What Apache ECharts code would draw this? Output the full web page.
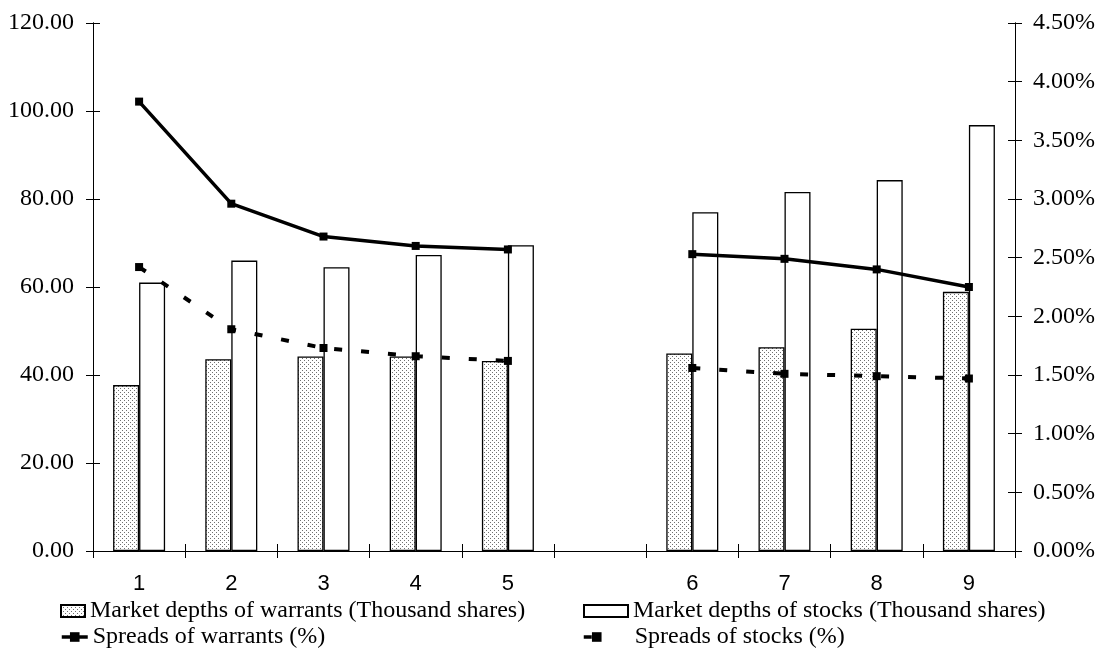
<!DOCTYPE html>
<html>
<head>
<meta charset="utf-8">
<script src="https://cdn.jsdelivr.net/npm/echarts@6/dist/echarts.min.js"></script>
<style>html,body{margin:0;padding:0;background:#fff}#c{width:1103px;height:655px}</style>
</head>
<body>
<div id="c"></div>
<script>
const categories = ['1', '2', '3', '4', '5', '', '6', '7', '8', '9'];
const warrantDepth = [37.7, 43.6, 44.2, 44.2, 43.2, null, 44.9, 46.3, 50.5, 58.9];
const stockDepth = [61.0, 66.0, 64.5, 67.3, 69.5, null, 77.0, 81.6, 84.3, 96.8];
const warrantSpread = [3.83, 2.96, 2.68, 2.60, 2.57, null, 2.53, 2.49, 2.40, 2.25];
const stockSpread = [2.42, 1.89, 1.73, 1.66, 1.62, null, 1.56, 1.51, 1.49, 1.47];
const seriesNames = ['Market depths of warrants (Thousand shares)', 'Market depths of stocks (Thousand shares)', 'Spreads of warrants (%)', 'Spreads of stocks (%)'];

// dotted fill pattern for the warrant bars
const tile = document.createElement('canvas');
tile.width = 4; tile.height = 4;
const tc = tile.getContext('2d');
tc.fillStyle = '#ffffff'; tc.fillRect(0, 0, 4, 4);
tc.fillStyle = '#707070';
tc.fillRect(0, 0, 1, 1);
tc.fillRect(2, 2, 1, 1);

const serif = 'Liberation Serif';
const GL = 93, GR = 88, GT = 23, GB = 104;
const blk = () => ({ color: '#000', width: 1 });

const chart = echarts.init(document.getElementById('c'), null, { renderer: 'canvas' });
chart.setOption({
  animation: false,
  backgroundColor: '#fff',
  grid: [
    { left: GL, right: GR, top: GT, bottom: GB, containLabel: false },
    { left: GL, right: GR, top: GT, bottom: GB, containLabel: false }
  ],
  legend: [
    { data: [{ name: seriesNames[0], icon: 'rect' }], left: 60, top: 599, padding: 0, itemWidth: 24, itemHeight: 12, textStyle: { fontFamily: serif, fontSize: 24, color: '#000' } },
    { data: [{ name: seriesNames[1], icon: 'rect' }], left: 583, top: 599, padding: 0, itemWidth: 44, itemHeight: 12, textStyle: { fontFamily: serif, fontSize: 24, color: '#000' } },
    { data: [seriesNames[2]], left: 60, top: 625, padding: 0, itemWidth: 26, itemHeight: 12, lineStyle: { width: 3.5 }, textStyle: { fontFamily: serif, fontSize: 24, color: '#000' } },
    { data: [seriesNames[3]], left: 582, top: 625, padding: 0, itemWidth: 26, itemHeight: 12, lineStyle: { width: 3.5 }, textStyle: { fontFamily: serif, fontSize: 24, color: '#000', padding: [0, 0, 0, 20] } }
  ],
  xAxis: [
    {
      gridIndex: 0, type: 'category', data: categories, position: 'bottom', boundaryGap: true,
      axisLine: { show: true, lineStyle: blk() },
      axisTick: { show: true, length: 7, lineStyle: blk() },
      axisLabel: { fontFamily: 'Liberation Sans', fontSize: 22, color: '#000', margin: 22, interval: 0 },
      splitLine: { show: false }
    },
    {
      gridIndex: 1, type: 'category', data: categories, position: 'bottom', boundaryGap: true,
      axisLine: { show: true, lineStyle: blk() },
      axisTick: { show: true, inside: true, length: 7, lineStyle: blk() },
      axisLabel: { show: false },
      splitLine: { show: false }
    }
  ],
  yAxis: [
    {
      gridIndex: 0, type: 'value', position: 'left', min: 0, max: 120, interval: 20,
      axisLine: { show: true, lineStyle: blk() },
      axisTick: { show: true, length: 7, lineStyle: blk() },
      axisLabel: { fontFamily: serif, fontSize: 24, color: '#000', margin: 19, formatter: v => v.toFixed(2) },
      splitLine: { show: false }
    },
    {
      gridIndex: 0, type: 'value', position: 'right', min: 0, max: 4.5, interval: 0.5,
      axisLine: { show: true, lineStyle: blk() },
      axisTick: { show: true, length: 7, lineStyle: blk() },
      axisLabel: { fontFamily: serif, fontSize: 24, color: '#000', margin: 18, formatter: v => v.toFixed(2) + '%' },
      splitLine: { show: false }
    },
    {
      gridIndex: 1, type: 'value', position: 'left', min: 0, max: 120, interval: 20,
      axisLine: { show: true, lineStyle: blk() },
      axisTick: { show: true, inside: true, length: 7, lineStyle: blk() },
      axisLabel: { show: false },
      splitLine: { show: false }
    },
    {
      gridIndex: 1, type: 'value', position: 'right', min: 0, max: 4.5, interval: 0.5,
      axisLine: { show: true, lineStyle: blk() },
      axisTick: { show: true, inside: true, length: 7, lineStyle: blk() },
      axisLabel: { show: false },
      splitLine: { show: false }
    }
  ],
  series: [
    {
      name: seriesNames[0], type: 'bar', data: warrantDepth, xAxisIndex: 0, yAxisIndex: 0,
      barWidth: 26, barGap: '0%',
      itemStyle: { color: { image: tile, repeat: 'repeat' }, borderColor: '#000', borderWidth: 1.3 }
    },
    {
      name: seriesNames[1], type: 'bar', data: stockDepth, xAxisIndex: 0, yAxisIndex: 0,
      barWidth: 26, barGap: '0%',
      itemStyle: { color: '#fff', borderColor: '#000', borderWidth: 1.3 }
    },
    {
      name: seriesNames[2], type: 'line', data: warrantSpread, xAxisIndex: 0, yAxisIndex: 1,
      connectNulls: false, symbol: 'rect', symbolSize: 8, showSymbol: true,
      lineStyle: { color: '#000', width: 3.5 }, itemStyle: { color: '#000' }, z: 5
    },
    {
      name: seriesNames[3], type: 'line', data: stockSpread, xAxisIndex: 0, yAxisIndex: 1,
      connectNulls: false, symbol: 'rect', symbolSize: 8, showSymbol: true,
      lineStyle: { color: '#000', width: 4, type: [8, 19] }, itemStyle: { color: '#000' }, z: 5
    },
    // invisible series that bind the inward-tick axes of the overlay grid
    { name: 'tickHelperL', type: 'line', data: warrantDepth, xAxisIndex: 1, yAxisIndex: 2, symbol: 'none', silent: true, lineStyle: { opacity: 0 } },
    { name: 'tickHelperR', type: 'line', data: warrantSpread, xAxisIndex: 1, yAxisIndex: 3, symbol: 'none', silent: true, lineStyle: { opacity: 0 } }
  ]
});
</script>
</body>
</html>
